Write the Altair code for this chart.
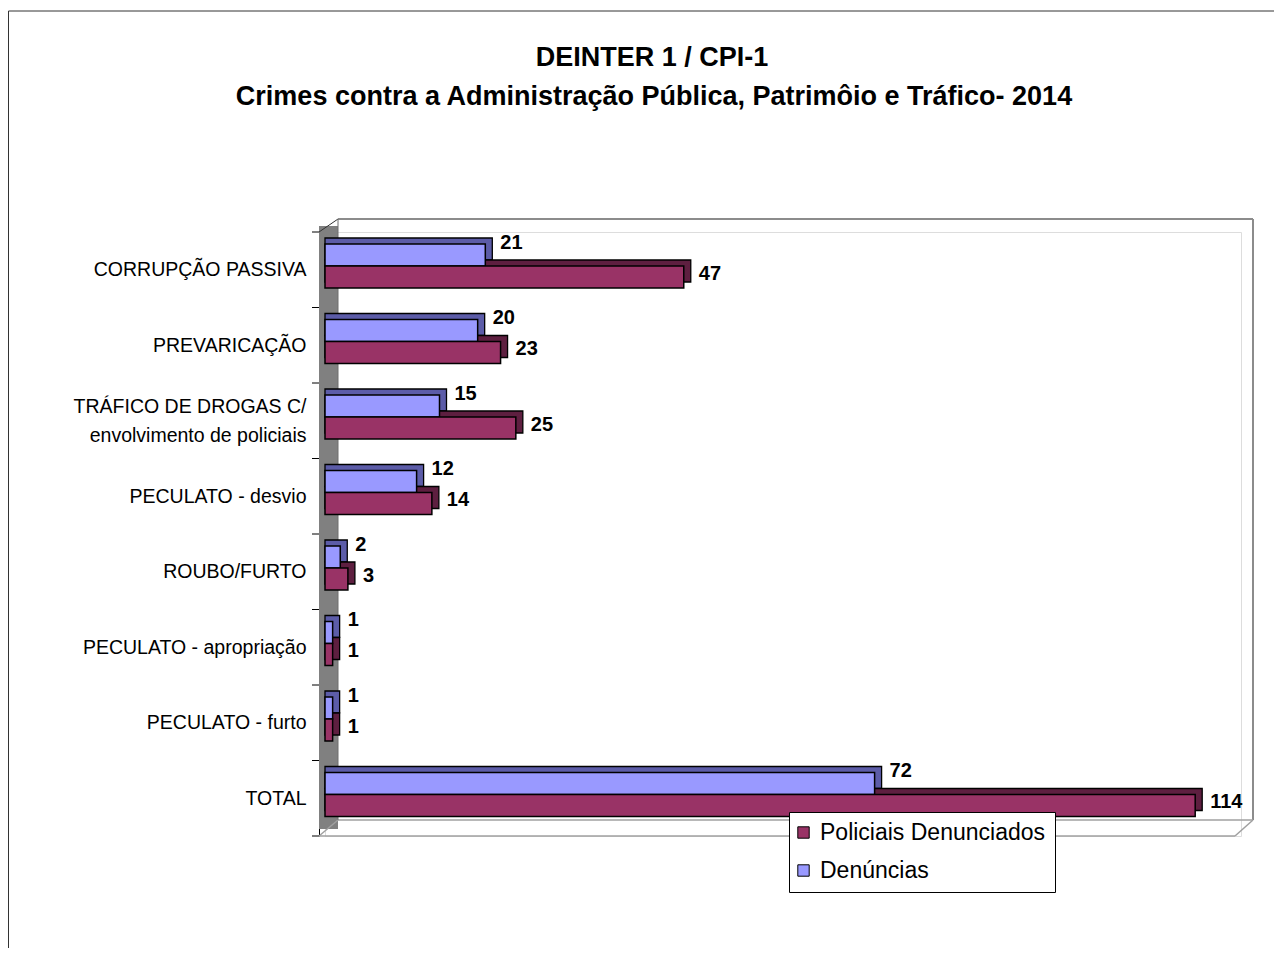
import json
import altair as alt
import pandas as pd

categories = [
    "CORRUPÇÃO PASSIVA",
    "PREVARICAÇÃO",
    "TRÁFICO DE DROGAS C/|envolvimento de policiais",
    "PECULATO - desvio",
    "ROUBO/FURTO",
    "PECULATO - apropriação",
    "PECULATO - furto",
    "TOTAL",
]
denuncias = [21, 20, 15, 12, 2, 1, 1, 72]
policiais = [47, 23, 25, 14, 3, 1, 1, 114]
series = ["Policiais Denunciados", "Denúncias"]
front_colors = ["#993366", "#9999FF"]
shade_colors = ["#5E1F40", "#5C5CA8"]
title_lines = ["DEINTER 1 / CPI-1",
               "Crimes contra a Administração Pública, Patrimôio e Tráfico- 2014"]

# slot layout inside each category band (fractions of one category step)
SLOT_TOP, SLOT_MID, SLOT_BOT = 0.159, 0.45, 0.742

rows = []
for i, (c, d, p) in enumerate(zip(categories, denuncias, policiais)):
    rows.append({"cat": c, "series": series[1], "value": d, "shade": shade_colors[1],
                 "y0": i + SLOT_TOP, "y1": i + SLOT_MID})
    rows.append({"cat": c, "series": series[0], "value": p, "shade": shade_colors[0],
                 "y0": i + SLOT_MID, "y1": i + SLOT_BOT})
df = pd.DataFrame(rows)
df["ym"] = (df["y0"] + df["y1"]) / 2

FONT = "Liberation Sans"
W, H = 916, 604
N = len(categories)
STEP = H / N
LINE_H = 29

yscale = alt.Scale(domain=[0, N], range=[0, H], nice=False, zero=False, padding=0)
cats_js = json.dumps(categories)
label_expr = "split(" + cats_js + "[round(datum.value - 0.5)], '|')"
# label anchor: centre of band, raised for multi-line labels so the block is centred
label_values = [i + 0.5 - (c.count("|") * LINE_H / 2) / STEP for i, c in enumerate(categories)]

y_axis = alt.Axis(
    title=None,
    values=label_values,
    labelExpr=label_expr,
    labelFont=FONT,
    labelFontSize=19.5,
    labelColor="black",
    labelLimit=400,
    labelLineHeight=LINE_H,
    labelPadding=13,
    labelOverlap=False,
    labelFlush=False,
    labelBound=False,
    ticks=False,
    offset=6,
    domainColor="black",
    domainWidth=1,
    grid=False,
)
xscale = alt.Scale(domain=[0, 120], nice=False, padding=0)
x_enc = alt.X("value:Q", scale=xscale, axis=None)

base = alt.Chart(df)

shadow = base.mark_bar(orient="horizontal", xOffset=7, yOffset=-6, y2Offset=-6,
                       stroke="black", strokeWidth=1.3).encode(
    x=x_enc,
    x2=alt.datum(0),
    y=alt.Y("y0:Q", scale=yscale, axis=y_axis),
    y2="y1:Q",
    color=alt.Color("shade:N", scale=None),
)

front = base.mark_bar(orient="horizontal", stroke="black", strokeWidth=1.5).encode(
    x=x_enc,
    x2=alt.datum(0),
    y=alt.Y("y0:Q", scale=yscale, axis=y_axis),
    y2="y1:Q",
    color=alt.Color(
        "series:N",
        scale=alt.Scale(domain=series, range=front_colors),
        legend=alt.Legend(
            title=None,
            orient="none",
            legendX=464,
            legendY=580,
            fillColor="white",
            strokeColor="black",
            padding=9,
            symbolType="square",
            symbolSize=130,
            symbolOffset=-6,
            symbolStrokeColor="black",
            symbolStrokeWidth=1,
            labelFont=FONT,
            labelFontSize=23,
            labelColor="black",
            labelOffset=5,
            labelLimit=400,
            rowPadding=14,
        ),
    ),
)

lbl_blue = base.transform_filter(alt.datum.series == series[1]).mark_text(
    align="left", baseline="middle", dx=15, dy=-12,
    font=FONT, fontSize=20, fontWeight="bold", color="black",
).encode(x=x_enc, y=alt.Y("ym:Q", scale=yscale, axis=y_axis), text="value:Q")

lbl_red = base.transform_filter(alt.datum.series == series[0]).mark_text(
    align="left", baseline="middle", dx=15, dy=-3,
    font=FONT, fontSize=20, fontWeight="bold", color="black",
).encode(x=x_enc, y=alt.Y("ym:Q", scale=yscale, axis=y_axis), text="value:Q")

# category boundary ticks on the left wall
ticks_df = pd.DataFrame({"b": list(range(N + 1))})
ticks = alt.Chart(ticks_df).mark_rule(color="black", strokeWidth=1).encode(
    x=alt.value(-13), x2=alt.value(-6),
    y=alt.Y("b:Q", scale=yscale, axis=y_axis),
)

one = alt.Data(values=[{}])
GREY = "#8C8C8C"

frame = alt.Chart(one).mark_rect(fillOpacity=0, stroke="#333333", strokeWidth=1).encode(
    x=alt.value(-316.5), x2=alt.value(990), y=alt.value(-221), y2=alt.value(800))

title1 = alt.Chart(one).mark_text(
    text=title_lines[0], font=FONT, fontSize=27, fontWeight="bold", color="black",
    align="center", baseline="alphabetic").encode(x=alt.value(327), y=alt.value(-166))
title2 = alt.Chart(one).mark_text(
    text=title_lines[1], font=FONT, fontSize=27, fontWeight="bold", color="black",
    align="center", baseline="alphabetic").encode(x=alt.value(329), y=alt.value(-127))

wall = alt.Chart(one).mark_rect(color="#808080").encode(
    x=alt.value(-6), x2=alt.value(13), y=alt.value(-6), y2=alt.value(597))


def seg(x1, y1, x2, y2, color=GREY, w=2):
    return alt.Chart(one).mark_rule(color=color, strokeWidth=w).encode(
        x=alt.value(x1), y=alt.value(y1), x2=alt.value(x2), y2=alt.value(y2))


deco = [
    wall,
    seg(-6, 0, 13, -13, "#333333", 1),
    seg(13, -13, 928, -13),
    seg(928, -13, 928, 588),
    seg(13, 588, 928, 588, "#A0A0A0", 1.5),
    seg(-6, 604, 910, 604, "#A0A0A0", 1.5),
    seg(910, 604, 928, 588, "#A0A0A0", 1.5),
    seg(-6, 604, 13, 588, "#A0A0A0", 1.5),
    seg(13, -13, 13, 588, "#6E6E6E", 1),
]

chart = alt.layer(
    frame, title1, title2, *deco, ticks, shadow, front, lbl_blue, lbl_red
).properties(
    width=W,
    height=H,
    autosize=alt.AutoSizeParams(type="none"),
    padding={"left": 317, "top": 224, "right": 33, "bottom": 112},
).configure_view(stroke=None).configure(background="white")

chart.save("out.html", embed_options={"renderer": "svg", "actions": False})
